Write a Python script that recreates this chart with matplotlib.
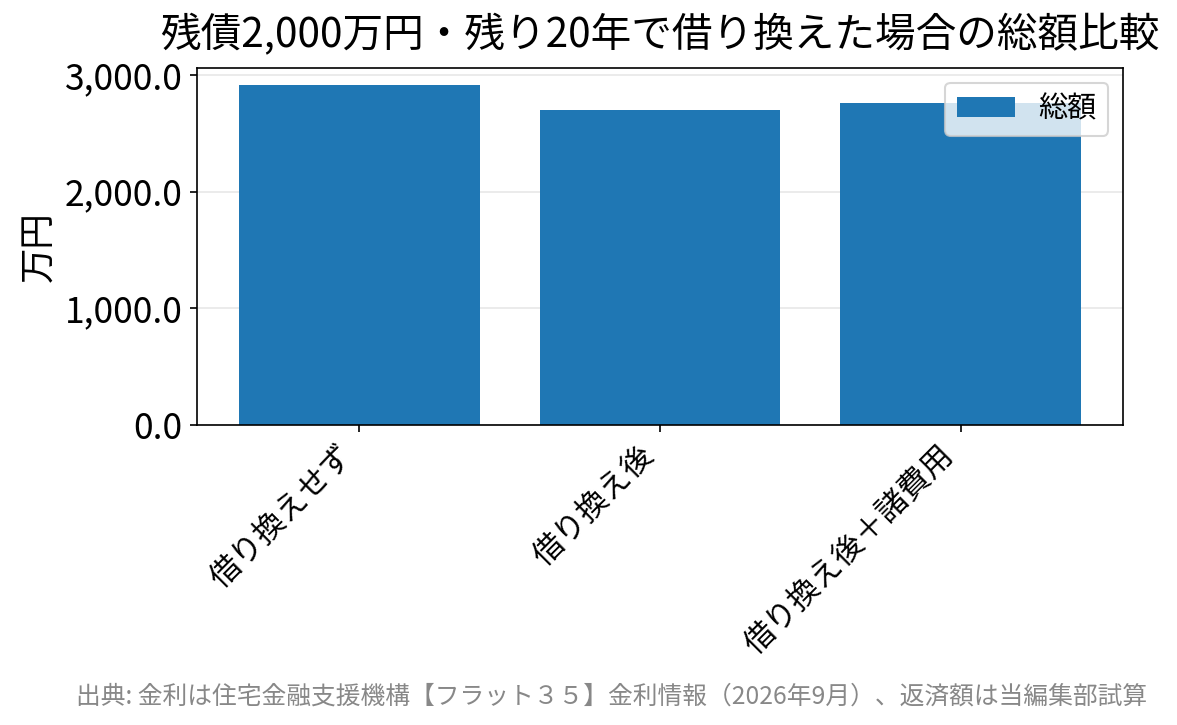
import matplotlib
matplotlib.use('Agg')
import matplotlib.pyplot as plt
from matplotlib.ticker import FuncFormatter

plt.rcParams['font.family'] = ['Noto Sans CJK JP', 'DejaVu Sans']

# データ
categories = ['借り換えせず', '借り換え後', '借り換え後＋諸費用']
totals = [2914, 2700, 2760]

title = '残債2,000万円・残り20年で借り換えた場合の総額比較'
source = '出典: 金利は住宅金融支援機構【フラット３５】金利情報（2026年9月）、返済額は当編集部試算'

fig = plt.figure(figsize=(1177 / 150, 725 / 150), dpi=150)
ax = fig.add_axes([197 / 1177, 1 - 425 / 725, (1123 - 197) / 1177, (425 - 68) / 725])

ax.bar(categories, totals, width=0.8, color='#1f77b4', label='総額')
ax.set_title(title, fontsize=19.5, pad=10)
ax.set_ylabel('万円', fontsize=17)
ax.yaxis.set_major_formatter(FuncFormatter(lambda v, p: f'{v:,.1f}'))
ax.tick_params(axis='y', labelsize=17)
ax.tick_params(axis='x', labelsize=15)
plt.setp(ax.get_xticklabels(), rotation=45, ha='right', rotation_mode='default')
ax.grid(axis='y', alpha=0.3)
ax.set_axisbelow(True)
ax.legend(loc='upper right', fontsize=14)

fig.text(0.975, 0.022, source, ha='right', va='bottom', fontsize=11.9, color='#888888')

fig.savefig('out.png', dpi=150)
